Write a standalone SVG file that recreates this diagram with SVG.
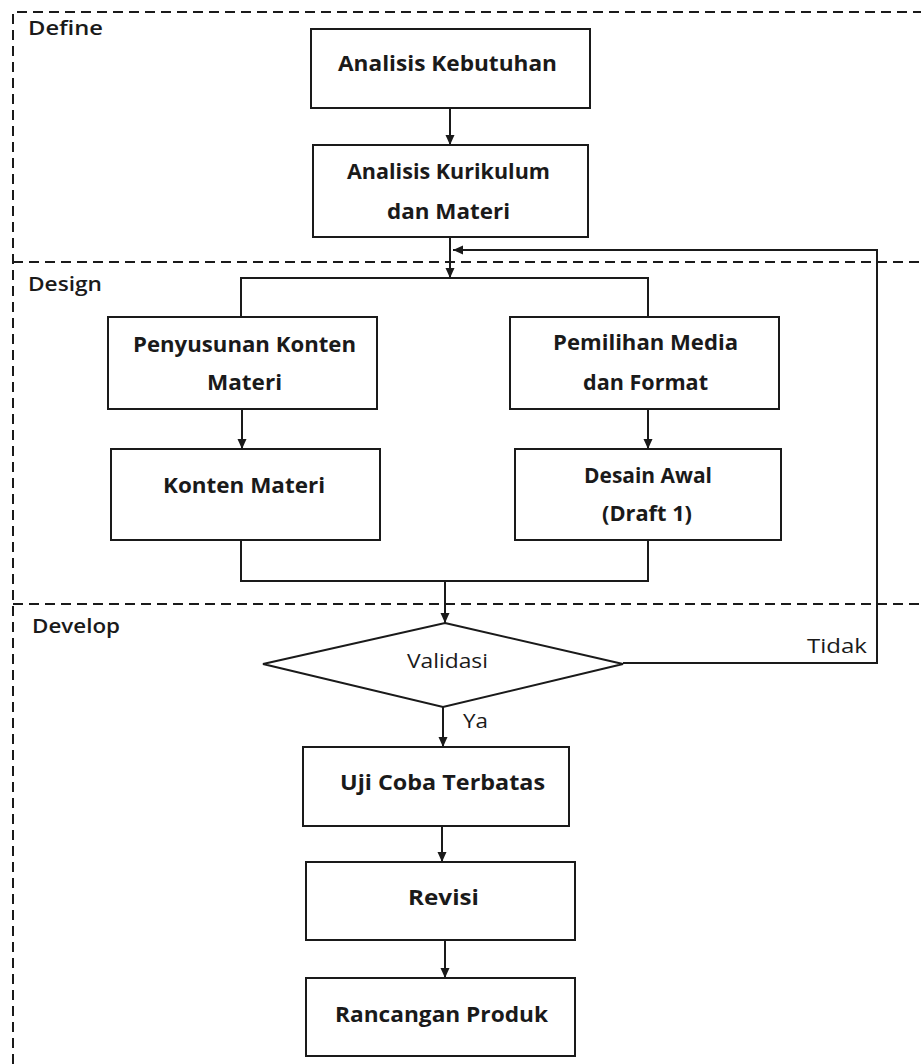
<svg xmlns="http://www.w3.org/2000/svg" width="921" height="1064" viewBox="0 0 921 1064">
<style>
.bg{fill:#ffffff}
.box{fill:#ffffff;stroke:#1a1a1a;stroke-width:2}
.dash{fill:none;stroke:#1a1a1a;stroke-width:2;stroke-dasharray:10 6}
.con{fill:none;stroke:#1a1a1a;stroke-width:2}
.t{font-family:"Open Sans","Liberation Sans",sans-serif;font-weight:700;font-size:21px;fill:#1a1a1a}
.lane{font-family:"Open Sans","Liberation Sans",sans-serif;font-weight:600;font-size:20px;fill:#1a1a1a}
.n{font-family:"Open Sans","Liberation Sans",sans-serif;font-weight:400;font-size:20px;fill:#1a1a1a}
</style>
<defs>
<marker id="arr" markerWidth="10" markerHeight="10" refX="10" refY="5" orient="auto" markerUnits="userSpaceOnUse">
<path d="M0,0.5 L10,5 L0,9.5 z" fill="#1a1a1a"/>
</marker>
</defs>
<rect class="bg" x="0" y="0" width="921" height="1064"/>
<g id="lanes">
<path class="dash" d="M13,1064 V12 H921"/>
<path class="dash" d="M13,262 H921"/>
<path class="dash" d="M13,604 H921"/>
<text class="lane" x="28" y="35" textLength="75" lengthAdjust="spacingAndGlyphs">Define</text>
<text class="lane" x="28" y="291" textLength="74" lengthAdjust="spacingAndGlyphs">Design</text>
<text class="lane" x="32" y="633" textLength="88" lengthAdjust="spacingAndGlyphs">Develop</text>
</g>
<g id="connectors">
<path class="con" d="M450,108 V145" marker-end="url(#arr)"/>
<path class="con" d="M450,237 V278" marker-end="url(#arr)"/>
<path class="con" d="M241,317 V278 H648 V317"/>
<path class="con" d="M242,409 V449" marker-end="url(#arr)"/>
<path class="con" d="M648,409 V449" marker-end="url(#arr)"/>
<path class="con" d="M241,540 V581 H648 V540"/>
<path class="con" d="M445,581 V623" marker-end="url(#arr)"/>
<path class="con" d="M443,707 V747" marker-end="url(#arr)"/>
<path class="con" d="M442,826 V862" marker-end="url(#arr)"/>
<path class="con" d="M445,940 V978" marker-end="url(#arr)"/>
<path class="con" d="M623,663 H877 V250 H453" marker-end="url(#arr)"/>
<text class="n" x="807" y="653" textLength="60" lengthAdjust="spacingAndGlyphs">Tidak</text>
<text class="n" x="463" y="728" textLength="25" lengthAdjust="spacingAndGlyphs">Ya</text>
</g>
<g id="analisis-kebutuhan">
<rect class="box" x="311" y="29" width="279" height="79"/>
<text class="t" x="338" y="71" textLength="219" lengthAdjust="spacingAndGlyphs">Analisis Kebutuhan</text>
</g>
<g id="analisis-kurikulum">
<rect class="box" x="313" y="145" width="275" height="92"/>
<text class="t" x="347" y="179" textLength="203" lengthAdjust="spacingAndGlyphs">Analisis Kurikulum</text>
<text class="t" x="387" y="219" textLength="123" lengthAdjust="spacingAndGlyphs">dan Materi</text>
</g>
<g id="penyusunan-konten">
<rect class="box" x="108" y="317" width="269" height="92"/>
<text class="t" x="133" y="352" textLength="223" lengthAdjust="spacingAndGlyphs">Penyusunan Konten</text>
<text class="t" x="207" y="390" textLength="75" lengthAdjust="spacingAndGlyphs">Materi</text>
</g>
<g id="pemilihan-media">
<rect class="box" x="510" y="317" width="269" height="92"/>
<text class="t" x="553" y="350" textLength="185" lengthAdjust="spacingAndGlyphs">Pemilihan Media</text>
<text class="t" x="583" y="390" textLength="125" lengthAdjust="spacingAndGlyphs">dan Format</text>
</g>
<g id="konten-materi">
<rect class="box" x="111" y="449" width="269" height="91"/>
<text class="t" x="163" y="493" textLength="162" lengthAdjust="spacingAndGlyphs">Konten Materi</text>
</g>
<g id="desain-awal">
<rect class="box" x="515" y="449" width="266" height="91"/>
<text class="t" x="584" y="483" textLength="128" lengthAdjust="spacingAndGlyphs">Desain Awal</text>
<text class="t" x="602" y="521" textLength="90" lengthAdjust="spacingAndGlyphs">(Draft 1)</text>
</g>
<g id="validasi">
<polygon class="box" points="445,623 623,664 443,707 263,664"/>
<text class="n" x="407" y="668" textLength="81" lengthAdjust="spacingAndGlyphs">Validasi</text>
</g>
<g id="uji-coba">
<rect class="box" x="303" y="747" width="266" height="79"/>
<text class="t" x="340" y="790" textLength="205" lengthAdjust="spacingAndGlyphs">Uji Coba Terbatas</text>
</g>
<g id="revisi">
<rect class="box" x="306" y="862" width="269" height="78"/>
<text class="t" x="408" y="905" textLength="71" lengthAdjust="spacingAndGlyphs">Revisi</text>
</g>
<g id="rancangan-produk">
<rect class="box" x="306" y="978" width="269" height="78"/>
<text class="t" x="335" y="1022" textLength="213" lengthAdjust="spacingAndGlyphs">Rancangan Produk</text>
</g>
</svg>
